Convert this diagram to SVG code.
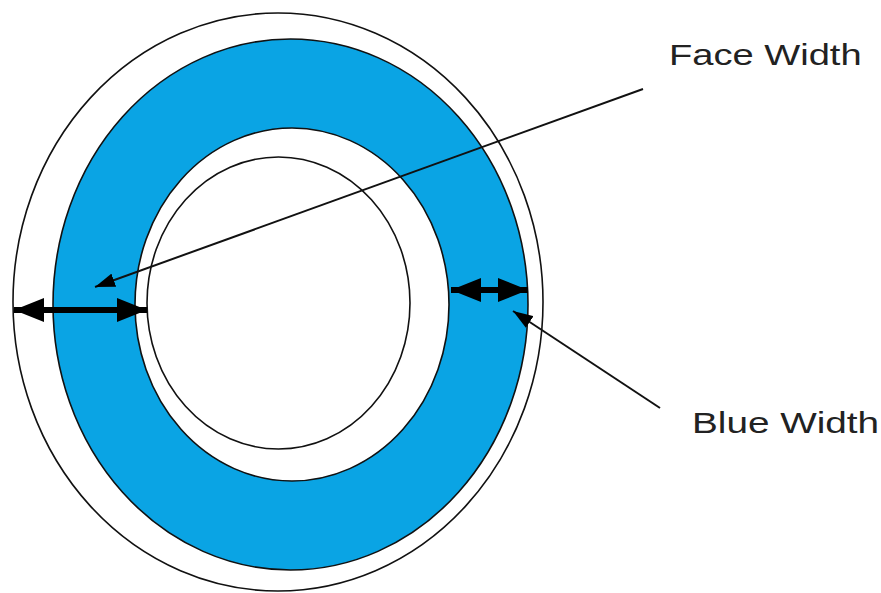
<svg xmlns="http://www.w3.org/2000/svg" width="881" height="593" viewBox="0 0 881 593">
<defs>
<style>
.ring{stroke:#111;stroke-width:1.6}
.lbl{font-family:"Liberation Sans",Arial,sans-serif;font-size:30px;fill:#222}
.ptr{stroke:#111;stroke-width:2;fill:none}
.dim{stroke:#000;stroke-width:6;fill:none}
</style>
<marker id="ah" viewBox="0 0 20 14" refX="20" refY="7" markerWidth="20" markerHeight="14" markerUnits="userSpaceOnUse" orient="auto">
<path d="M0,0 L20,7 L0,14 Z" fill="#000"/>
</marker>
<marker id="bh" viewBox="0 0 30 24" refX="30" refY="12" markerWidth="30" markerHeight="24" markerUnits="userSpaceOnUse" orient="auto-start-reverse">
<path d="M0,0 L30,12 L0,24 Z" fill="#000"/>
</marker>
</defs>
<rect width="881" height="593" fill="#fff"/>
<g id="outer-rim"><ellipse class="ring" cx="278" cy="302" rx="265" ry="289" fill="#fff"/></g>
<g id="blue-face"><ellipse class="ring" cx="290.5" cy="304.5" rx="237.5" ry="265.5" fill="#0AA4E4"/></g>
<g id="inner-white"><ellipse class="ring" cx="292" cy="304.5" rx="157" ry="176.5" fill="#fff"/></g>
<g id="bore"><ellipse class="ring" cx="278.5" cy="303" rx="131.5" ry="146" fill="#fff"/></g>
<g id="connectors">
<line class="dim" x1="14" y1="310" x2="147" y2="310" marker-start="url(#bh)" marker-end="url(#bh)"/>
<line class="dim" x1="451" y1="290" x2="528" y2="290" marker-start="url(#bh)" marker-end="url(#bh)"/>
<line class="ptr" x1="643" y1="89" x2="95" y2="287" marker-end="url(#ah)"/>
<line class="ptr" x1="660" y1="408" x2="513" y2="311" marker-end="url(#ah)"/>
</g>
<g id="label-face"><text class="lbl" transform="translate(669,65) scale(1.27,1)" x="0" y="0">Face Width</text></g>
<g id="label-blue"><text class="lbl" transform="translate(692,433) scale(1.29,1)" x="0" y="0">Blue Width</text></g>
</svg>
